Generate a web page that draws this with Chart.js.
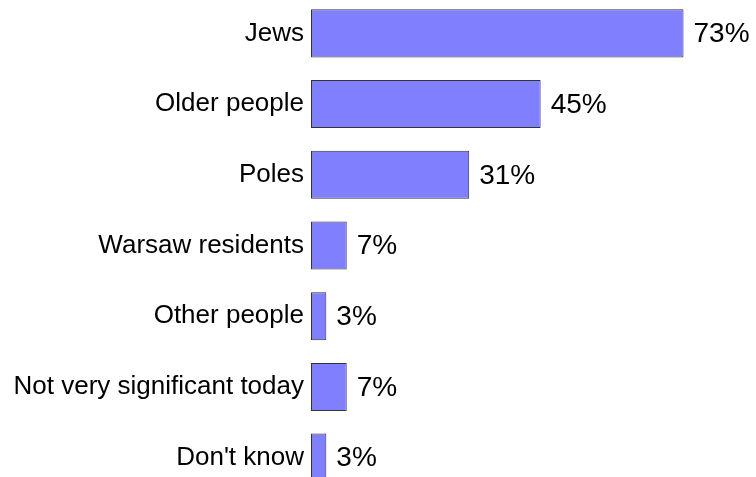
<!DOCTYPE html>
<html>
<head>
<meta charset="utf-8">
<script src="https://cdn.jsdelivr.net/npm/chart.js@4/dist/chart.umd.min.js"></script>
<style>
    html, body { margin: 0; padding: 0; background: #fff; overflow: hidden; }
    body { width: 756px; height: 477px; position: relative; }
    #wrap { position: absolute; left: 0; top: -2px; width: 756px; height: 495px; }
</style>
</head>
<body>
<div id="wrap"><canvas id="bar-chart"></canvas></div>
<script>
// Categories and values
const categories = [
    "Jews",
    "Older people",
    "Poles",
    "Warsaw residents",
    "Other people",
    "Not very significant today",
    "Don't know"
];
const percentValues = [73, 45, 31, 7, 3, 7, 3];

const fontFamily = "'Liberation Sans', Arial, sans-serif";

// Draw the percentage next to each bar
const valueLabels = {
    id: "valueLabels",
    afterDatasetsDraw(chart) {
        const ctx = chart.ctx;
        const meta = chart.getDatasetMeta(0);
        ctx.save();
        ctx.font = "28px " + fontFamily;
        ctx.fillStyle = "#000";
        ctx.textAlign = "left";
        ctx.textBaseline = "middle";
        meta.data.forEach((bar, i) => {
            ctx.fillText(percentValues[i] + "%", bar.x + 10, bar.y + 1);
        });
        ctx.restore();
    }
};

const ctx = document.getElementById("bar-chart").getContext("2d");
new Chart(ctx, {
    type: "bar",
    data: {
        labels: categories,
        datasets: [
            {
                data: percentValues,
                backgroundColor: "#8080FF",
                borderColor: "#333333",
                borderWidth: 1,
                borderSkipped: false,
                categoryPercentage: 0.68,
                barPercentage: 1.0
            }
        ]
    },
    options: {
        indexAxis: "y",
        responsive: true,
        maintainAspectRatio: false,
        animation: false,
        layout: { padding: 0 },
        plugins: {
            legend: { display: false },
            tooltip: { enabled: false }
        },
        scales: {
            x: {
                display: false,
                min: 0,
                max: 87.2
            },
            y: {
                afterFit(scale) {
                    scale.width = 311;
                    scale.paddingTop = 0;
                    scale.paddingBottom = 0;
                },
                grid: { display: false, drawTicks: false },
                border: { display: false },
                ticks: {
                    color: "#000",
                    padding: 7,
                    autoSkip: false,
                    font: { family: fontFamily, size: 26 }
                }
            }
        }
    },
    plugins: [valueLabels]
});
</script>
</body>
</html>
